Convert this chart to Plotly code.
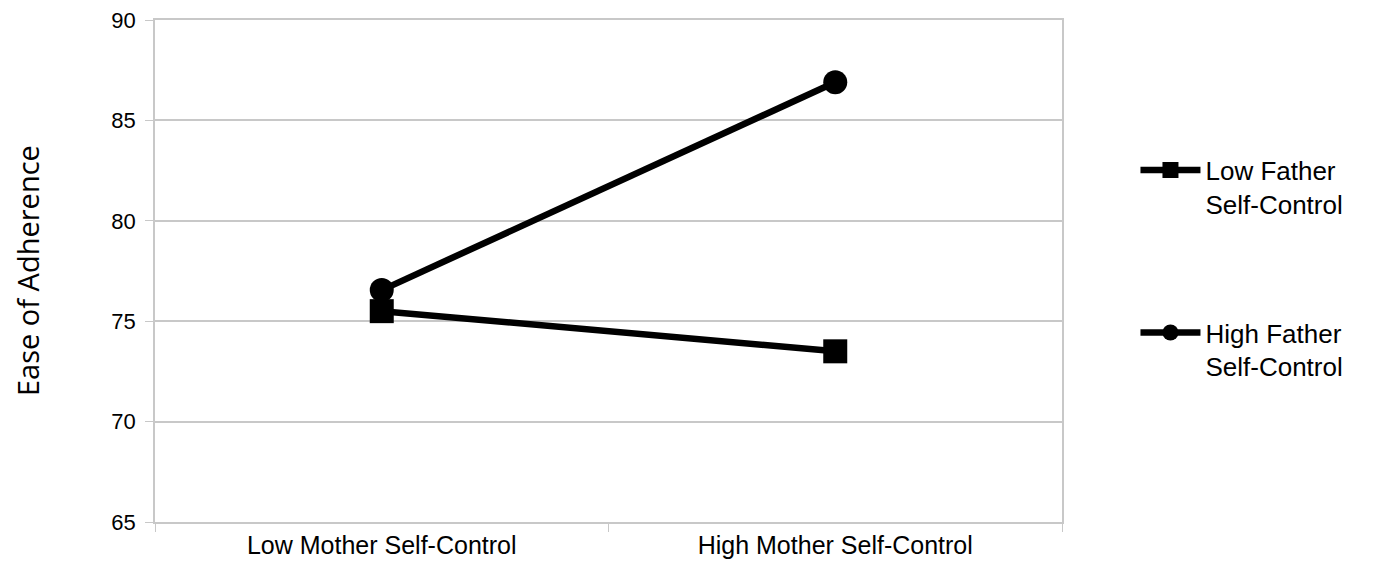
import plotly.graph_objects as go

categories = ["Low Mother Self-Control", "High Mother Self-Control"]
low_father = [75.5, 73.5]
high_father = [76.55, 86.9]
series_names = ["Low Father<br>Self-Control", "High Father<br>Self-Control"]
y_ticks = [65, 70, 75, 80, 85, 90]
y_title = "Ease of Adherence"

fig = go.Figure()
fig.add_trace(go.Scatter(
    x=categories, y=low_father, name=series_names[0], mode="lines+markers",
    line=dict(color="black", width=6.5), marker=dict(symbol="square", size=24, color="black"),
    legendgroup="a"))
fig.add_trace(go.Scatter(
    x=categories, y=high_father, name=series_names[1], mode="lines+markers",
    line=dict(color="black", width=6.5), marker=dict(symbol="circle", size=24, color="black"),
    legendgroup="b"))

grid = "#c8c8c8"
# page body has an 8px margin, so the figure is sized/offset to compensate
fig.update_layout(
    width=1367, height=564,
    margin=dict(l=147, r=313, t=12, b=50, autoexpand=False),
    plot_bgcolor="white", paper_bgcolor="white",
    font=dict(family="Liberation Sans, Arial, sans-serif", color="black"),
    showlegend=True,
    legend=dict(x=1.081, y=0.748, xanchor="left", yanchor="top", valign="top",
                font=dict(size=26), tracegroupgap=92, itemwidth=60),
    xaxis=dict(type="category", tickson="boundaries", range=[-0.5, 1.5], automargin=False,
               showline=True, linecolor=grid, linewidth=1.5, mirror=True,
               ticks="outside", ticklen=8, tickcolor=grid, showgrid=False,
               tickfont=dict(size=25)),
    yaxis=dict(range=[65, 90], tickvals=y_ticks, showgrid=True, gridcolor=grid, gridwidth=1.5,
               showline=True, linecolor=grid, linewidth=1.5, mirror=True, automargin=False,
               ticks="outside", ticklen=8, tickcolor=grid, zeroline=False,
               ticklabeloverflow="allow",
               ticklabelstandoff=5, tickfont=dict(size=22)),
    annotations=[dict(text=y_title, xref="paper", yref="paper", x=-128 / 907, y=0.5,
                      xanchor="center", yanchor="middle", textangle=-90, showarrow=False,
                      font=dict(size=29, family="Open Sans, sans-serif"))],
)
fig.write_html("out.html")
